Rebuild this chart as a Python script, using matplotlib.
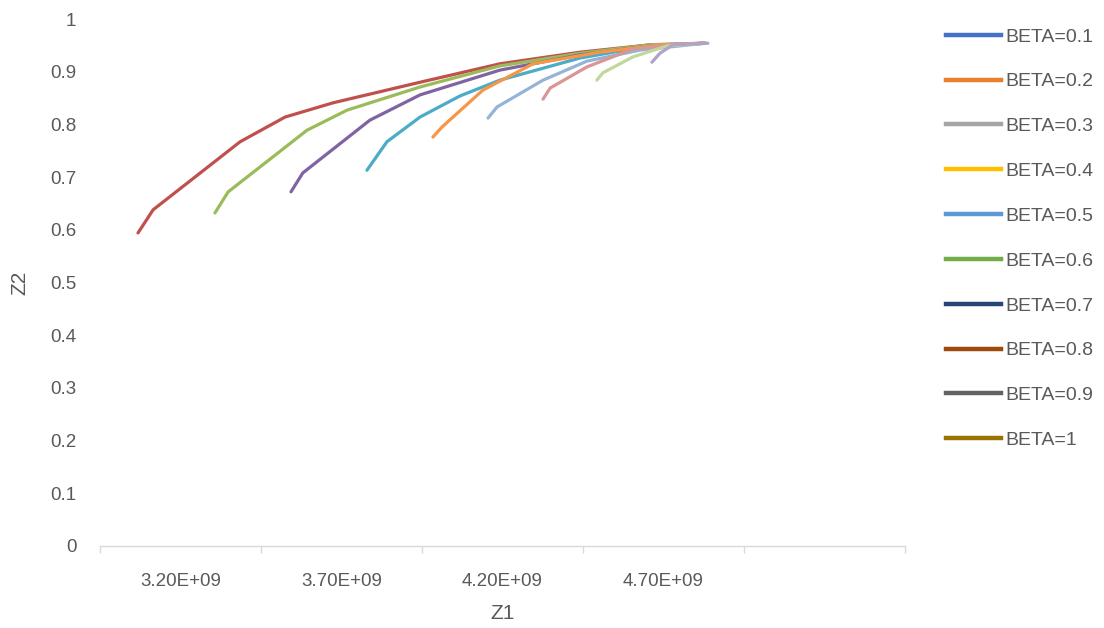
import numpy as np
import matplotlib
matplotlib.use("Agg")
import matplotlib.pyplot as plt
from matplotlib.lines import Line2D

# Z1 values (in units of 1e9) and Z2 values per curve
curve_colors = ['#C0504D', '#9BBB59', '#8064A2', '#4BACC6', '#F79646',
                '#95B3D7', '#D99694', '#C3D69B', '#B3A2C7']

z1_red = [3.068, 3.115, 3.385, 3.525, 3.674, 3.944, 4.192, 4.441, 4.658, 4.829]
z2_red = [0.594, 0.638, 0.767, 0.814, 0.841, 0.880, 0.915, 0.937, 0.951, 0.954]

z1_green = [3.307, 3.348, 3.593, 3.717, 3.944, 4.192, 4.441, 4.658, 4.829]
z2_green = [0.632, 0.672, 0.789, 0.827, 0.871, 0.911, 0.935, 0.951, 0.954]

z1_purple = [3.543, 3.580, 3.788, 3.944, 4.192, 4.441, 4.658, 4.829]
z2_purple = [0.672, 0.708, 0.808, 0.856, 0.903, 0.932, 0.949, 0.954]

z1_teal = [3.779, 3.841, 3.944, 4.068, 4.192, 4.441, 4.658, 4.829]
z2_teal = [0.713, 0.767, 0.814, 0.854, 0.884, 0.926, 0.949, 0.954]

z1_orange = [3.984, 4.012, 4.139, 4.295, 4.503, 4.689, 4.829]
z2_orange = [0.776, 0.795, 0.865, 0.915, 0.937, 0.951, 0.954]

z1_ltblue = [4.155, 4.183, 4.326, 4.462, 4.627, 4.829]
z2_ltblue = [0.812, 0.833, 0.884, 0.920, 0.941, 0.954]

z1_pink = [4.326, 4.348, 4.462, 4.605, 4.751, 4.829]
z2_pink = [0.848, 0.869, 0.909, 0.943, 0.953, 0.954]

z1_ltgreen = [4.493, 4.512, 4.605, 4.711, 4.829]
z2_ltgreen = [0.884, 0.898, 0.928, 0.949, 0.954]

z1_lavender = [4.664, 4.689, 4.729, 4.838]
z2_lavender = [0.918, 0.935, 0.951, 0.954]

curves = [
    (z1_red, z2_red), (z1_green, z2_green), (z1_purple, z2_purple),
    (z1_teal, z2_teal), (z1_orange, z2_orange), (z1_ltblue, z2_ltblue),
    (z1_pink, z2_pink), (z1_ltgreen, z2_ltgreen), (z1_lavender, z2_lavender),
]

legend_labels = ['BETA=0.1', 'BETA=0.2', 'BETA=0.3', 'BETA=0.4', 'BETA=0.5',
                 'BETA=0.6', 'BETA=0.7', 'BETA=0.8', 'BETA=0.9', 'BETA=1']
legend_colors = ['#4472C4', '#ED7D31', '#A5A5A5', '#FFC000', '#5B9BD5',
                 '#70AD47', '#264478', '#9E480E', '#636363', '#997300']

x_label_pos = [3.2e9, 3.7e9, 4.2e9, 4.7e9]
x_tick_labels = ['3.20E+09', '3.70E+09', '4.20E+09', '4.70E+09']
x_tick_marks = [2.95e9, 3.45e9, 3.95e9, 4.45e9, 4.95e9, 5.45e9]
y_ticks = [0, 0.1, 0.2, 0.3, 0.4, 0.5, 0.6, 0.7, 0.8, 0.9, 1]
y_tick_labels = ['0', '0.1', '0.2', '0.3', '0.4', '0.5', '0.6', '0.7', '0.8', '0.9', '1']

TEXT = '#595959'
plt.rcParams['font.family'] = ['Liberation Sans', 'DejaVu Sans']

fig = plt.figure(figsize=(11.04, 6.28), dpi=100)
ax = fig.add_axes([100 / 1104, 82 / 628, 805 / 1104, 527 / 628])

for (zx, zy), c in zip(curves, curve_colors):
    ax.plot(np.array(zx) * 1e9, zy, color=c, lw=2.3, solid_capstyle='round',
            solid_joinstyle='round')

ax.set_xlim(2.95e9, 5.45e9)
ax.set_ylim(0, 1)

for s in ['top', 'right', 'left']:
    ax.spines[s].set_visible(False)
ax.spines['bottom'].set_color('#D9D9D9')
ax.spines['bottom'].set_linewidth(1)

ax.set_xticks(x_tick_marks)
ax.set_xticklabels([''] * len(x_tick_marks))
ax.tick_params(axis='x', which='major', length=5, color='#D9D9D9', width=1)
ax.set_xticks(x_label_pos, minor=True)
ax.set_xticklabels(x_tick_labels, minor=True)
ax.tick_params(axis='x', which='minor', length=0, pad=19.5, labelsize=13.5, labelcolor=TEXT)

ax.set_yticks(y_ticks)
ax.set_yticklabels(y_tick_labels)
ax.tick_params(axis='y', length=0, pad=17, labelsize=13.5, labelcolor=TEXT)

ax.set_xlabel('Z1', fontsize=15, color=TEXT, labelpad=10)
ax.set_ylabel('Z2', fontsize=15, color=TEXT, labelpad=15)

handles = [Line2D([0], [0], color=c, lw=3.2) for c in legend_colors]
fig.legend(handles, legend_labels, loc='upper left',
           bbox_to_anchor=(946 / 1104, 1 - 28 / 628), frameon=False,
           fontsize=14, labelcolor=TEXT, handlelength=2.85, handletextpad=0.2,
           labelspacing=1.4, borderpad=0, borderaxespad=0)

fig.savefig('out.png', dpi=100)
